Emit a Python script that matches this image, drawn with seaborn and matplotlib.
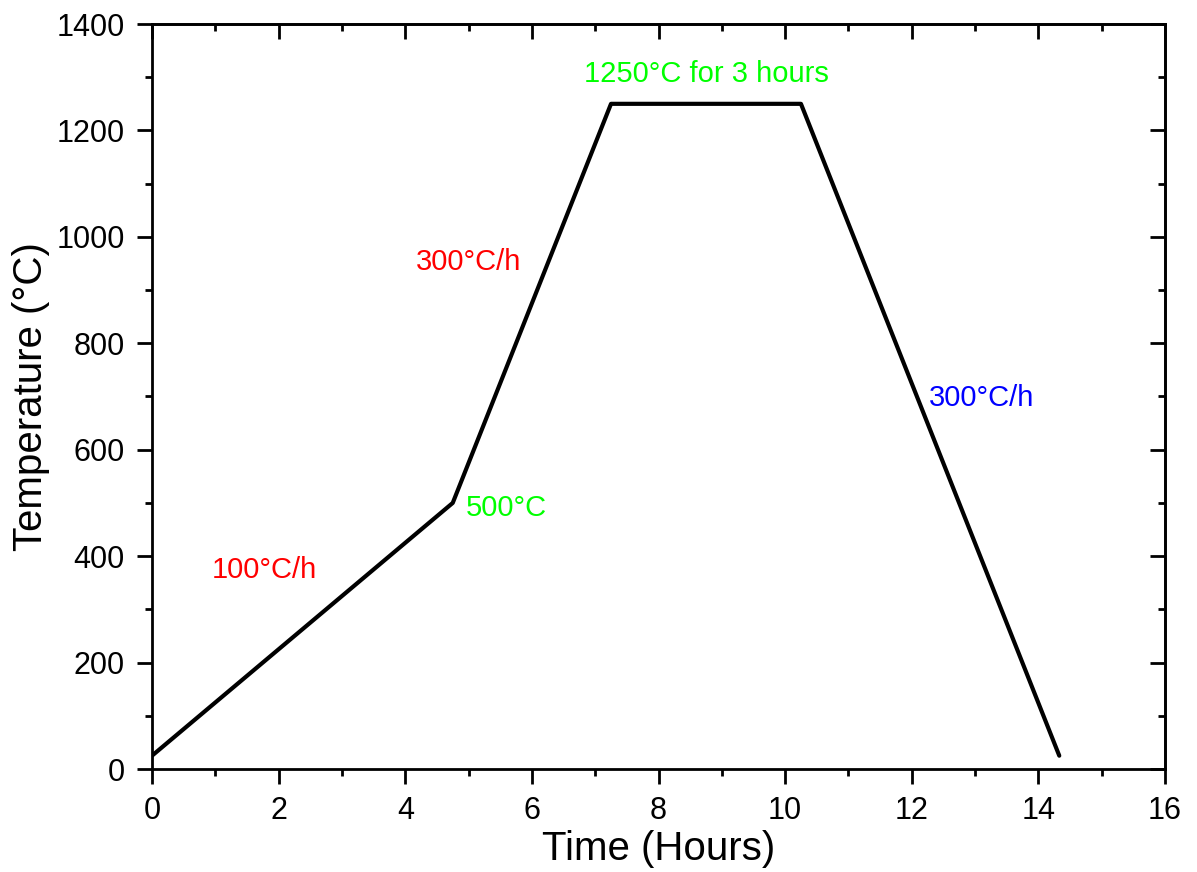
import matplotlib
matplotlib.use("Agg")
import matplotlib.pyplot as plt
from matplotlib.ticker import MultipleLocator
import seaborn as sns
import pandas as pd

time_h = [0.0, 4.75, 7.25, 10.25, 14.33]
temp_c = [25, 500, 1250, 1250, 25]

labels = ["100°C/h", "300°C/h", "1250°C for 3 hours", "500°C", "300°C/h"]
label_x = [1.78, 5.0, 8.75, 5.6, 13.1]
label_y = [374, 953, 1306, 490, 697]
label_colors = ["#FF0000", "#FF0000", "#00FF00", "#00FF00", "#0000FF"]

sns.set_theme(style="white")
plt.rcParams['font.family'] = ['Liberation Sans', 'DejaVu Sans']

fig = plt.figure(figsize=(11.97, 8.72), dpi=100)
ax = fig.add_axes([152/1197, 1 - 769/872, (1165-152)/1197, (769-24)/872])

df = pd.DataFrame({"t": time_h, "T": temp_c})
sns.lineplot(data=df, x="t", y="T", ax=ax, color="black", linewidth=3, sort=False)

for s, x, y, c in zip(labels, label_x, label_y, label_colors):
    ax.text(x, y, s, color=c, fontsize=21, ha="center", va="center")

ax.set_xlim(0, 16)
ax.set_ylim(0, 1400)
ax.xaxis.set_major_locator(MultipleLocator(2))
ax.xaxis.set_minor_locator(MultipleLocator(1))
ax.yaxis.set_major_locator(MultipleLocator(200))
ax.yaxis.set_minor_locator(MultipleLocator(100))

for sp in ax.spines.values():
    sp.set_linewidth(2)
    sp.set_color("black")

ax.tick_params(which="both", bottom=True, left=True, top=False, right=False,
               direction="out", width=2, colors="black", labelsize=22)
ax.tick_params(which="major", length=10.5)
ax.tick_params(axis="y", which="major", pad=9)
ax.tick_params(axis="x", which="major", pad=9)
ax.tick_params(which="minor", length=5)

axt = ax.secondary_xaxis("top")
axt.xaxis.set_major_locator(MultipleLocator(2))
axt.xaxis.set_minor_locator(MultipleLocator(1))
axt.tick_params(which="both", direction="in", width=2, labeltop=False, colors="black")
axt.tick_params(which="major", length=10.5)
axt.tick_params(which="minor", length=5)
axt.spines["top"].set_linewidth(2)
axr = ax.secondary_yaxis("right")
axr.yaxis.set_major_locator(MultipleLocator(200))
axr.yaxis.set_minor_locator(MultipleLocator(100))
axr.tick_params(which="both", direction="in", width=2, labelright=False, colors="black")
axr.tick_params(which="major", length=10.5)
axr.tick_params(which="minor", length=5)
axr.spines["right"].set_linewidth(2)

ax.set_xlabel("Time (Hours)", fontsize=29, labelpad=3, color="black")
ax.set_ylabel("Temperature (°C)", fontsize=29, labelpad=5, color="black")

fig.savefig("out.png", dpi=100)
